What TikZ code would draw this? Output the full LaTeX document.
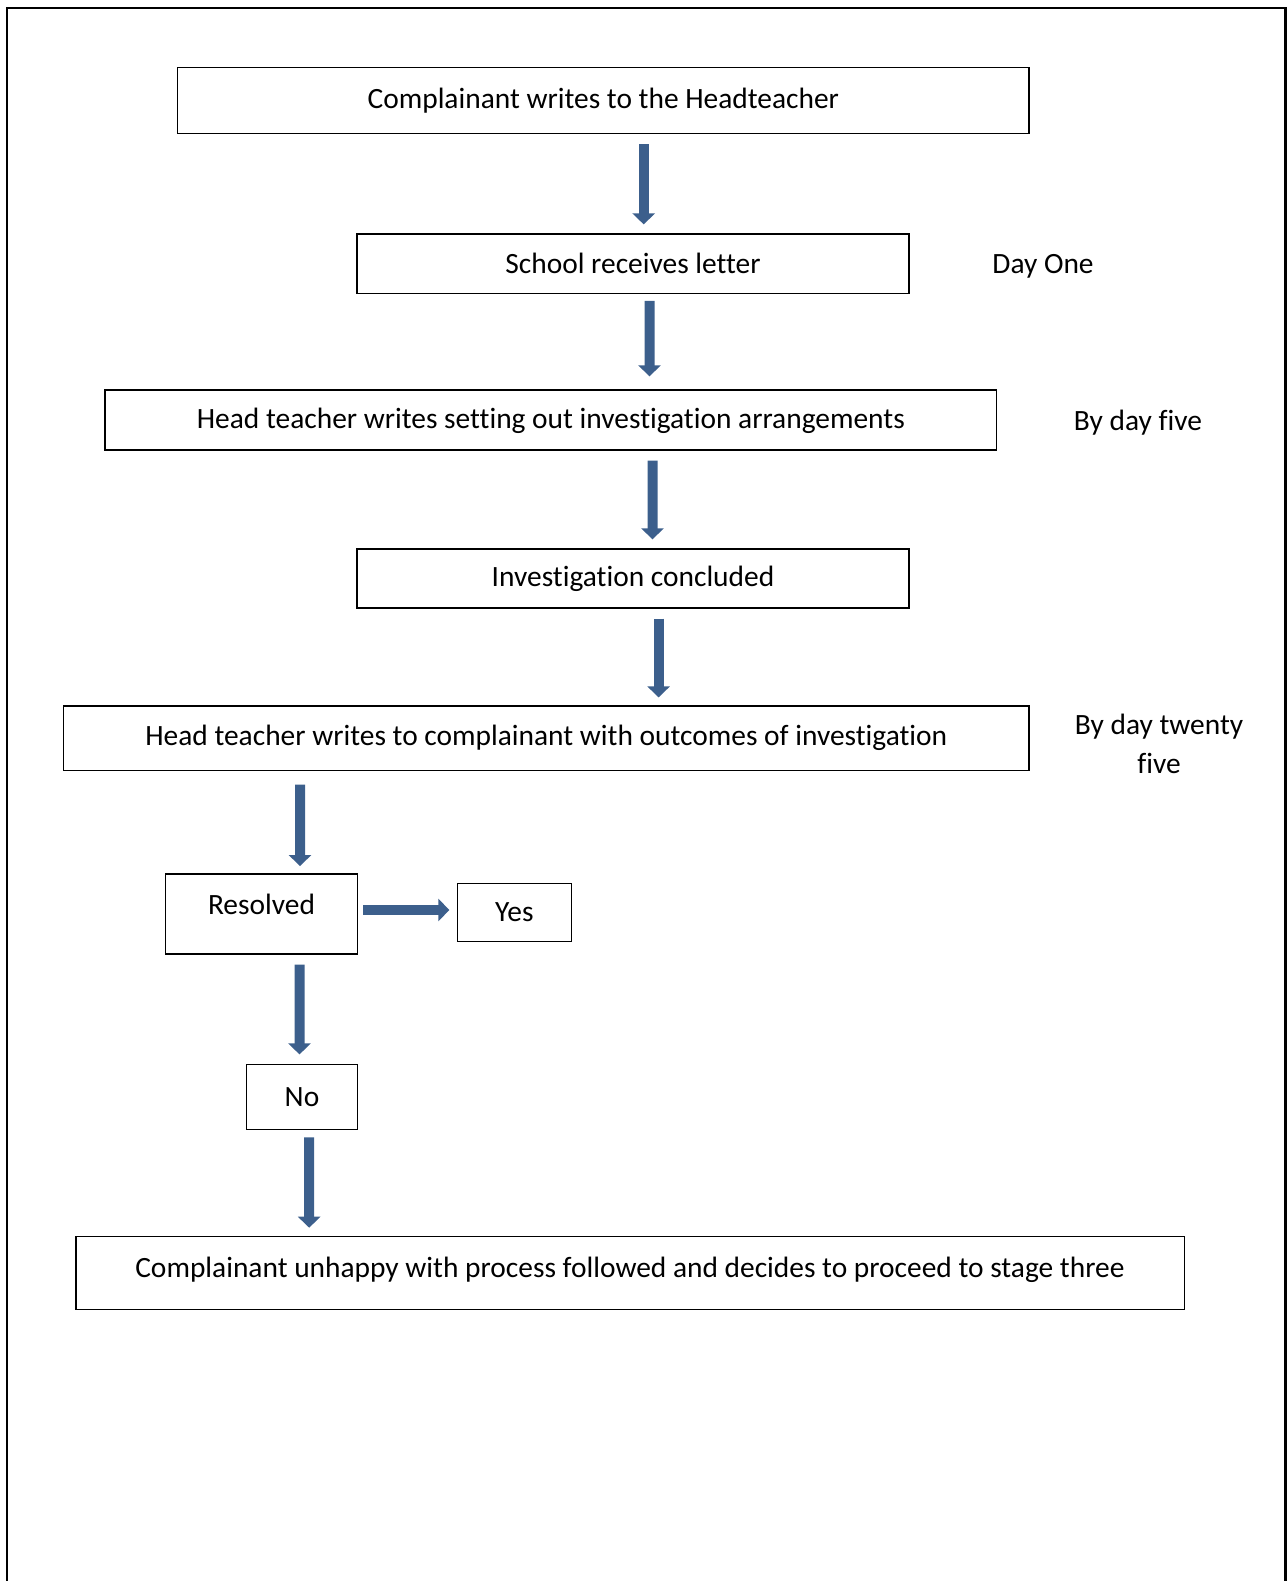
\documentclass[tikz,border=0pt]{standalone}
\usepackage{fontspec}
\setmainfont{Carlito}[Ligatures=CommonOff]
\usetikzlibrary{arrows.meta}
\definecolor{flowblue}{RGB}{60,95,140}
\begin{document}
\begin{tikzpicture}[x=0.02cm, y=-0.02cm,
  box/.style={draw, line width=0.75pt, inner sep=0pt, font=\fontsize{16.75}{20}\selectfont},
  note/.style={font=\fontsize{16.75}{22.6}\selectfont, align=center},
  flow/.style={line width=0.2cm, flowblue, -{Triangle[length=0.22cm, width=0.44cm]}}]
\useasboundingbox (0,0) rectangle (1287,1581);
\draw [line width=1.4pt] (7,1590) -- (7,8) -- (1285.5,8) -- (1285.5,1590);
% boxes
\node [box, minimum width=17.03cm, minimum height=1.32cm] (b1) at (603.3,100.6) {Complainant writes to the Headteacher};
\node [box, minimum width=11.04cm, minimum height=1.19cm] (b2) at (633,263.8) {School receives letter};
\node [box, minimum width=17.83cm, minimum height=1.2cm, text depth=0.06cm] (b3) at (550.8,420) {Head teacher writes setting out investigation arrangements};
\node [box, minimum width=11.04cm, minimum height=1.18cm] (b4) at (633,578.5) {Investigation concluded};
\node [box, minimum width=19.31cm, minimum height=1.29cm] (b5) at (546.3,738.3) {Head teacher writes to complainant with outcomes of investigation};
\node [box, minimum width=3.85cm, minimum height=1.6cm, text depth=0.4cm] (res) at (261.5,914) {Resolved};
\node [box, minimum width=2.28cm, minimum height=1.17cm] (yes) at (514.3,912.5) {Yes};
\node [box, minimum width=2.22cm, minimum height=1.29cm] (no) at (302,1097) {No};
\node [box, minimum width=22.17cm, minimum height=1.45cm, text depth=0.22cm] (b6) at (630,1273) {Complainant unhappy with process followed and decides to proceed to stage three};
% days
\node [note, anchor=base] (d1) at (1043,273.5) {Day One};
\node [note, anchor=base] (d5) at (1138,430.3) {By day five};
\node [note] (d25) at (1159,744) {By day twenty\\five};
% arrows
\draw [flow] ([shift={(40.4,10)}]b1.south) -- ([shift={(10.7,-9)}]b2.north);
\draw [flow] ([shift={(16.5,6.7)}]b2.south) -- ([shift={(98.7,-13)}]b3.north);
\draw [flow] ([shift={(101.7,10)}]b3.south) -- ([shift={(19.5,-9)}]b4.north);
\draw [flow] ([shift={(25.6,10)}]b4.south) -- ([shift={(112.3,-8)}]b5.north);
\draw [flow] ([shift={(-246.3,13.5)}]b5.south) -- ([shift={(38.5,-7.3)}]res.north);
\draw [flow] ([shift={(5,-4)}]res.east) -- ([shift={(-7.3,-2.5)}]yes.west);
\draw [flow] ([shift={(38,10)}]res.south) -- ([shift={(-2.5,-9.7)}]no.north);
\draw [flow] ([shift={(7,7.4)}]no.south) -- ([shift={(-320.8,-8.4)}]b6.north);
\end{tikzpicture}
\end{document}
